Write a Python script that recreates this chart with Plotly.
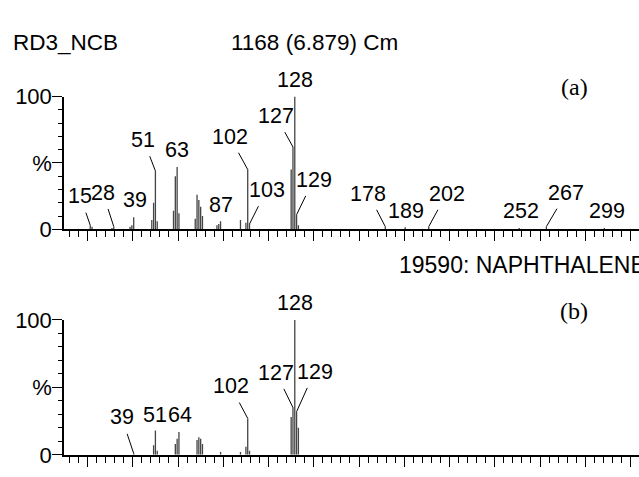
import plotly.graph_objects as go

# ---- spectrum data (m/z, relative intensity %) ----
sample_mz = [15, 16, 27, 28, 37, 38, 39, 49, 50, 51, 52, 61, 62, 63, 64,
             73, 74, 75, 76, 77, 85, 86, 87, 98, 101, 102, 103,
             126, 127, 128, 129, 130, 178, 189, 202, 252, 267, 299]
sample_int = [3, 2, 1, 2, 2, 3, 9, 7, 20, 44, 6, 14, 40, 47, 12,
              8, 26, 22, 17, 10, 3, 4, 6, 7, 5, 45, 4,
              45, 62, 100, 11, 3, 2, 1.5, 2, 1, 2, 1]
sample_labels = [15, 28, 39, 51, 63, 87, 102, 103, 127, 128, 129,
                 178, 189, 202, 252, 267, 299]

library_mz = [39, 50, 51, 52, 62, 63, 64, 74, 75, 76, 77, 87, 98,
              101, 102, 103, 126, 127, 128, 129, 130]
library_int = [1, 7, 18, 3, 8, 12, 17, 11, 13, 12, 8, 2, 2,
               6, 27, 3, 28, 35, 100, 32, 20]
library_labels = [39, 51, 64, 102, 127, 128, 129]

sample_title = "RD3_NCB"
scan_title = "1168 (6.879) Cm"
library_title = "19590: NAPHTHALENE"

# ---- label placement: (dx, dy) pixel offset of text centre, leader line ----
sample_offsets = {
    15: (-10, -29, True), 28: (-11, -34, True), 39: (1, -17, False),
    51: (-12, -31, True), 63: (0, -17, False), 87: (0, -16, False),
    102: (-18, -33, True), 103: (17, -34, True), 127: (-17, -31, True),
    128: (0, -17, False), 129: (17, -35, True), 178: (-17, -33, True),
    189: (1, -16, False), 202: (18, -33, True), 252: (2, -17, False),
    267: (20, -34, True), 299: (3, -17, False),
}
library_offsets = {
    39: (-12, -36, True), 51: (0, -16, False), 64: (1, -17, False),
    102: (-17, -32, True), 127: (-17, -35, True), 128: (0, -17, False),
    129: (18, -40, True),
}

W, H = 639, 477
SANS = "Liberation Sans, Arial, sans-serif"
SERIF = "Liberation Serif, Times New Roman, serif"
LABEL_SIZE = 21.5
X0_PX = 64.0
PX_PER_MZ = 1.81
X_MIN = 0.5
X_MAX = X_MIN + (W - X0_PX) / PX_PER_MZ

# vertical extents (pixels from top) of the two panels: (100 %, 0 %)
panels = [(89.3, 229.3), (325.0, 467.3)]


def sticks(mz, inten):
    xs, ys = [], []
    for m, v in zip(mz, inten):
        xs += [m, m, None]
        ys += [0, v, None]
    return xs, ys


fig = go.Figure()
for i, (mz, inten) in enumerate([(sample_mz, sample_int), (library_mz, library_int)]):
    xs, ys = sticks(mz, inten)
    suffix = "" if i == 0 else "2"
    fig.add_trace(go.Scatter(
        x=xs, y=ys, mode="lines", xaxis="x" + suffix, yaxis="y" + suffix,
        line=dict(color="#444444", width=1.3), hoverinfo="skip", showlegend=False,
    ))

annotations = []
for i, (mz, inten, labels, offsets) in enumerate([
        (sample_mz, sample_int, sample_labels, sample_offsets),
        (library_mz, library_int, library_labels, library_offsets)]):
    suffix = "" if i == 0 else "2"
    lookup = dict(zip(mz, inten))
    for m in labels:
        dx, dy, leader = offsets[m]
        common = dict(x=m, y=lookup[m], xref="x" + suffix, yref="y" + suffix,
                      text=str(m), font=dict(family=SANS, size=LABEL_SIZE, color="black"))
        if leader:
            annotations.append(dict(common, showarrow=True, ax=dx, ay=dy,
                                    arrowhead=0, arrowwidth=1, arrowcolor="black",
                                    standoff=0, startstandoff=3))
        else:
            annotations.append(dict(common, showarrow=False, xshift=dx, yshift=-dy,
                                    xanchor="center", yanchor="middle"))


def paper_text(text, x_px, y_px, size, family, anchor="left"):
    return dict(text=text, x=x_px / W, y=1 - y_px / H, xref="paper", yref="paper",
                xanchor=anchor, yanchor="middle", showarrow=False,
                font=dict(family=family, size=size, color="black"))


annotations += [
    paper_text(sample_title, 11, 32, 22.5, SANS),
    paper_text(scan_title, 229, 32, 22.5, SANS),
    paper_text(library_title, 397, 267, 23, SANS),
    paper_text("(a)", 574, 79, 24, SERIF, "center"),
    paper_text("(b)", 574, 316, 24, SERIF, "center"),
]

x_common = dict(range=[X_MIN, X_MAX], showgrid=False, zeroline=False,
                showline=True, linecolor="black", linewidth=1.5,
                showticklabels=False, ticks="outside", tickmode="linear",
                tick0=13.5, dtick=25, ticklen=10, tickwidth=1.2, tickcolor="black",
                minor=dict(ticks="outside", tick0=13.5, dtick=5, ticklen=6,
                           tickwidth=1, tickcolor="black"),
                domain=[X0_PX / W, 1])
y_common = dict(range=[0, 100], showgrid=False, zeroline=False,
                showline=True, linecolor="black", linewidth=1.5,
                ticks="outside", tickmode="array", tickvals=[0, 50, 100],
                ticktext=["0", "%", "100"], ticklen=10, tickwidth=1.2,
                ticklabelstandoff=-4,
                tickcolor="black", tickfont=dict(family=SANS, size=22, color="black"),
                minor=dict(ticks="outside", tickmode="linear", tick0=0, dtick=10,
                           ticklen=4, tickwidth=1, tickcolor="black"))

(t1, b1), (t2, b2) = panels
fig.update_layout(
    width=W, height=H, margin=dict(l=0, r=0, t=0, b=0),
    paper_bgcolor="white", plot_bgcolor="white",
    font=dict(family=SANS, color="black"),
    xaxis=dict(x_common, anchor="y"),
    yaxis=dict(y_common, anchor="x", domain=[1 - b1 / H, 1 - t1 / H]),
    xaxis2=dict(x_common, anchor="y2"),
    yaxis2=dict(y_common, anchor="x2", domain=[1 - b2 / H, 1 - t2 / H]),
    annotations=annotations,
    showlegend=False,
)

fig.write_html("out.html")
